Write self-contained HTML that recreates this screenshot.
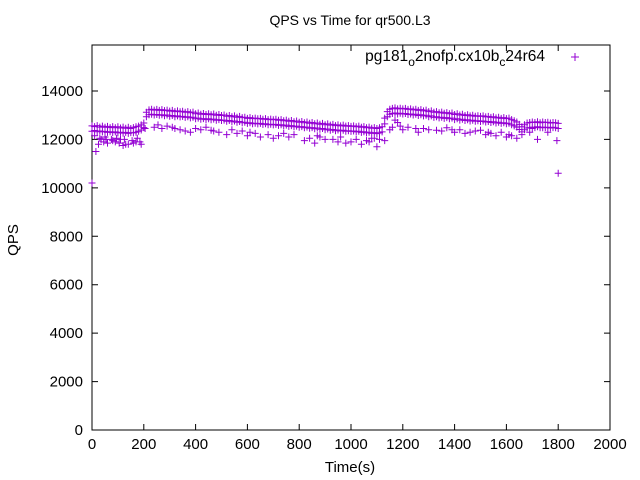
<!DOCTYPE html>
<html><head><meta charset="utf-8"><style>
body{margin:0;background:#fff;}
svg{display:block;font-family:"Liberation Sans",sans-serif;}
</style></head><body>
<svg id="chart" width="640" height="480" viewBox="0 0 640 480">
<rect width="640" height="480" fill="#fff"/>
<text x="350" y="25" text-anchor="middle" font-size="14">QPS vs Time for qr500.L3</text>
<text x="350" y="472" text-anchor="middle" font-size="15">Time(s)</text>
<text x="0" y="0" transform="translate(18,240) rotate(-90)" text-anchor="middle" font-size="15">QPS</text>
<g id="axes"></g>
<g id="marks"></g>
<g>
<text x="545" y="61" text-anchor="end" font-size="15.5">pg181<tspan dy="5" font-size="12">o</tspan><tspan dy="-5">2nofp.cx10b</tspan><tspan dy="5" font-size="12">c</tspan><tspan dy="-5">24r64</tspan></text>
<path d="M571 57h8M575 53v8" stroke="#9400d3" stroke-width="1"/>
</g>
</svg>
<script>
const xTicks=[0,200,400,600,800,1000,1200,1400,1600,1800,2000];
const yTicks=[0,2000,4000,6000,8000,10000,12000,14000];
const bandHi=[12560,12530,12570,12510,12550,12500,12540,12490,12530,12480,12520,12470,12510,12460,12500,12450,12490,12520,12550,12600,
12680,13120,13220,13250,13210,13240,13200,13230,13190,13210,
13170,13200,13150,13180,13140,13160,13120,13150,13100,13130,
13060,13090,13040,13070,13030,13060,13020,13050,13000,13030,
12990,13010,12960,12990,12940,12970,12920,12950,12900,12920,
12870,12900,12860,12880,12850,12870,12830,12860,12820,12840,
12810,12830,12790,12820,12770,12800,12750,12780,12730,12760,
12710,12740,12690,12720,12670,12700,12650,12680,12630,12660,
12610,12640,12590,12620,12570,12600,12560,12590,12550,12570,
12540,12560,12520,12550,12500,12530,12480,12510,12460,12490,
12450,12480,12520,12880,13150,13250,13280,13300,13260,13290,
13260,13280,13240,13260,13220,13250,13200,13230,13180,13210,
13150,13180,13120,13150,13100,13130,13080,13110,13060,13090,
13030,13060,13010,13040,12990,13020,12970,13000,12960,12980,
12950,12970,12930,12950,12910,12940,12890,12920,12870,12900,
12860,12880,12820,12770,12720,12620,12520,12610,12680,12700,
12720,12700,12730,12690,12720,12700,12710,12680,12700,12690,
12660];
const bandLo=[12340,12370,12320,12350,12310,12330,12290,12320,12280,12310,12270,12300,12260,12290,12250,12280,12270,12300,12340,12390,
12490,12940,13020,13040,13010,13030,13000,13020,12980,13010,
12960,12990,12940,12970,12930,12950,12910,12940,12890,12920,
12850,12880,12830,12860,12820,12850,12810,12840,12790,12820,
12780,12800,12750,12780,12730,12760,12710,12740,12690,12710,
12660,12690,12650,12670,12640,12660,12620,12650,12610,12630,
12600,12620,12580,12610,12560,12590,12540,12570,12520,12550,
12500,12530,12480,12510,12460,12490,12440,12470,12420,12450,
12400,12430,12380,12410,12360,12390,12350,12380,12340,12360,
12330,12350,12310,12340,12290,12320,12270,12300,12250,12280,
12240,12270,12310,12640,12940,13040,13070,13090,13050,13080,
13050,13070,13030,13050,13010,13040,12990,13020,12970,13000,
12940,12970,12910,12940,12890,12920,12870,12900,12850,12880,
12820,12850,12800,12830,12780,12810,12760,12790,12750,12770,
12740,12760,12720,12740,12700,12730,12680,12710,12660,12690,
12650,12670,12610,12560,12510,12410,12310,12400,12470,12490,
12510,12490,12520,12480,12510,12490,12500,12470,12490,12480,
12450];
const outT=[0,15,25,35,45,60,75,90,105,120,140,155,170,190,240,270,290,340,380,420,470,520,560,600,650,700,760,820,860,900,950,980,1000,1040,1070,1100,1130,1160,1180,1200,1260,1300,1350,1400,1440,1480,1520,1560,1600,1640,1720,1760,1795,1800,
30,55,80,110,130,160,185,255,320,360,400,440,490,540,580,630,680,720,780,840,880,930,1020,1060,1090,1150,1170,1220,1280,1330,1370,1420,1460,1500,1540,1580,1620,1660,1700,1740,1780,
10,50,95,125,175,205,310,460,610,740,870,960,1080,1110,1190,1250,1390,1530,1610,1690];
const outV=[10200,11500,11800,12000,11900,11850,12000,11900,11850,11750,11800,11950,11900,11800,12500,12450,12550,12400,12300,12400,12350,12200,12250,12150,12100,12050,12100,11950,11850,12000,11900,11850,11900,11800,11900,11700,11950,12500,12700,12400,12300,12400,12350,12300,12250,12350,12200,12150,12100,12050,12000,12300,11950,10600,
12050,12000,11950,12000,11800,11850,11900,12600,12450,12350,12450,12500,12300,12400,12350,12250,12200,12150,12200,12050,12100,12000,12000,11950,12050,12400,12800,12500,12450,12380,12480,12400,12300,12380,12250,12300,12150,12200,12450,12480,12500,
12150,12100,12050,12000,12050,12450,12500,12380,12300,12250,12150,12100,12050,12000,12550,12450,12400,12300,12200,12300];

const X0=92,X1=610,Y0=430,Y1=45;
const xs=t=>X0+t/2000*(X1-X0);
const ys=v=>Y0-v/14000*(Y0-91);
const NS="http://www.w3.org/2000/svg";
const axes=document.getElementById('axes');
const marks=document.getElementById('marks');
function mk(tag,attrs,parent){const e=document.createElementNS(NS,tag);for(const k in attrs)e.setAttribute(k,attrs[k]);parent.appendChild(e);return e;}
const frame=mk('rect',{x:X0,y:Y1,width:X1-X0,height:Y0-Y1,fill:'none',stroke:'#000','stroke-width':1},axes);


xTicks.forEach(t=>{
  const x=xs(t);
  const l=mk('path',{d:`M${x} ${Y0}v-6M${x} ${Y1}v6`,stroke:'#000'},axes);
  
  
  const tx=mk('text',{x:x,y:Y0+19,'text-anchor':'middle','font-size':15},axes);
  tx.textContent=t;
  
  
});
yTicks.forEach(v=>{
  const y=ys(v);
  const l=mk('path',{d:`M${X0} ${y}h6M${X1} ${y}h-6`,stroke:'#000'},axes);
  
  
  const tx=mk('text',{x:X0-9,y:y+5,'text-anchor':'end','font-size':15},axes);
  tx.textContent=v;
  
  
});
let d='';
function plus(t,v){const x=xs(t),y=ys(v);d+=`M${(x-3.5).toFixed(1)} ${y.toFixed(1)}h7M${x.toFixed(1)} ${(y-3.5).toFixed(1)}v7`;}
[bandHi,bandLo].forEach(arr=>arr.forEach((v,i)=>plus(i*10,v)));
outT.forEach((t,i)=>plus(t,outV[i]));
const p=mk('path',{d:d,stroke:'#9400d3','stroke-width':1,fill:'none'},marks);


</script>
</body></html>
